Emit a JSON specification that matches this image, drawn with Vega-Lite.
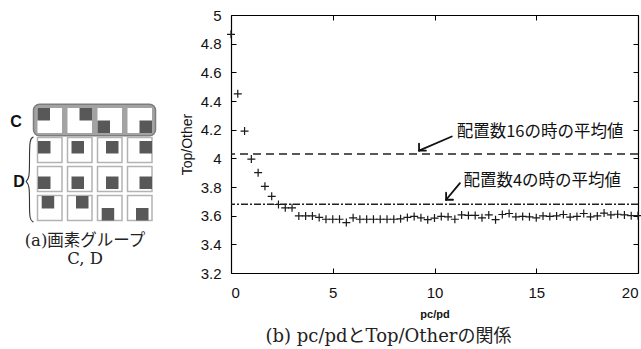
{
  "$schema": "https://vega.github.io/schema/vega-lite/v6.json",
  "padding": {"left": 0, "top": 8, "right": 0, "bottom": 0},
  "background": "white",
  "spacing": 51,
  "bounds": "flush",
  "datasets": {
    "points": [
      {"x": 0, "y": 4.865}, {"x": 0.333, "y": 4.45}, {"x": 0.667, "y": 4.19}, {"x": 1, "y": 3.995},
      {"x": 1.333, "y": 3.9}, {"x": 1.667, "y": 3.805}, {"x": 2, "y": 3.735}, {"x": 2.333, "y": 3.678},
      {"x": 2.667, "y": 3.655}, {"x": 3, "y": 3.655}, {"x": 3.333, "y": 3.598}, {"x": 3.667, "y": 3.598},
      {"x": 4, "y": 3.598}, {"x": 4.333, "y": 3.588}, {"x": 4.667, "y": 3.575}, {"x": 5, "y": 3.575},
      {"x": 5.333, "y": 3.575}, {"x": 5.667, "y": 3.552}, {"x": 6, "y": 3.585}, {"x": 6.333, "y": 3.575},
      {"x": 6.667, "y": 3.575}, {"x": 7, "y": 3.575}, {"x": 7.333, "y": 3.575}, {"x": 7.667, "y": 3.575},
      {"x": 8, "y": 3.575}, {"x": 8.333, "y": 3.578}, {"x": 8.667, "y": 3.588}, {"x": 9, "y": 3.595},
      {"x": 9.333, "y": 3.585}, {"x": 9.667, "y": 3.572}, {"x": 10, "y": 3.583}, {"x": 10.333, "y": 3.595},
      {"x": 10.667, "y": 3.592}, {"x": 11, "y": 3.575}, {"x": 11.333, "y": 3.605}, {"x": 11.667, "y": 3.602},
      {"x": 12, "y": 3.602}, {"x": 12.333, "y": 3.585}, {"x": 12.667, "y": 3.605}, {"x": 13, "y": 3.572},
      {"x": 13.333, "y": 3.608}, {"x": 13.667, "y": 3.615}, {"x": 14, "y": 3.592}, {"x": 14.333, "y": 3.595},
      {"x": 14.667, "y": 3.592}, {"x": 15, "y": 3.585}, {"x": 15.333, "y": 3.598}, {"x": 15.667, "y": 3.595},
      {"x": 16, "y": 3.598}, {"x": 16.333, "y": 3.608}, {"x": 16.667, "y": 3.59}, {"x": 17, "y": 3.595},
      {"x": 17.333, "y": 3.615}, {"x": 17.667, "y": 3.592}, {"x": 18, "y": 3.598}, {"x": 18.333, "y": 3.618},
      {"x": 18.667, "y": 3.605}, {"x": 19, "y": 3.61}, {"x": 19.333, "y": 3.605}, {"x": 19.667, "y": 3.6},
      {"x": 20, "y": 3.6}
    ],
    "means": [{"line": "16", "y": 4.03}, {"line": "4", "y": 3.68}],
    "arrows": [
      {"x": 10.85, "y": 4.152, "x2": 9.24, "y2": 4.054},
      {"x": 9.24, "y": 4.054, "x2": 9.24, "y2": 4.103},
      {"x": 9.24, "y": 4.054, "x2": 9.58, "y2": 4.054},
      {"x": 11.25, "y": 3.827, "x2": 10.57, "y2": 3.711},
      {"x": 10.57, "y": 3.711, "x2": 10.57, "y2": 3.76},
      {"x": 10.57, "y": 3.711, "x2": 10.91, "y2": 3.711}
    ],
    "notes": [
      {"x": 11.09, "y": 4.187, "text": "配置数16の時の平均値"},
      {"x": 11.42, "y": 3.843, "text": "配置数4の時の平均値"}
    ],
    "diagram": [
      {"part": "group", "x": 33.5, "x2": 155.5, "y": 89.3, "y2": 120.7},
      {"part": "ccell", "x": 37.5, "x2": 62, "y": 93, "y2": 118},
      {"part": "ccell", "x": 67.5, "x2": 92, "y": 93, "y2": 118},
      {"part": "ccell", "x": 97.5, "x2": 122, "y": 93, "y2": 118},
      {"part": "ccell", "x": 127.5, "x2": 152, "y": 93, "y2": 118},
      {"part": "dcell", "x": 37.5, "x2": 62, "y": 122.5, "y2": 147.5},
      {"part": "dcell", "x": 67.5, "x2": 92, "y": 122.5, "y2": 147.5},
      {"part": "dcell", "x": 97.5, "x2": 122, "y": 122.5, "y2": 147.5},
      {"part": "dcell", "x": 127.5, "x2": 152, "y": 122.5, "y2": 147.5},
      {"part": "dcell", "x": 37.5, "x2": 62, "y": 151.5, "y2": 176.5},
      {"part": "dcell", "x": 67.5, "x2": 92, "y": 151.5, "y2": 176.5},
      {"part": "dcell", "x": 97.5, "x2": 122, "y": 151.5, "y2": 176.5},
      {"part": "dcell", "x": 127.5, "x2": 152, "y": 151.5, "y2": 176.5},
      {"part": "dcell", "x": 37.5, "x2": 62, "y": 180.5, "y2": 205.5},
      {"part": "dcell", "x": 67.5, "x2": 92, "y": 180.5, "y2": 205.5},
      {"part": "dcell", "x": 97.5, "x2": 122, "y": 180.5, "y2": 205.5},
      {"part": "dcell", "x": 127.5, "x2": 152, "y": 180.5, "y2": 205.5},
      {"part": "pixel", "x": 37.5, "x2": 50, "y": 93, "y2": 105.5},
      {"part": "pixel", "x": 79.5, "x2": 92, "y": 93, "y2": 105.5},
      {"part": "pixel", "x": 97.5, "x2": 110, "y": 105.5, "y2": 118},
      {"part": "pixel", "x": 139.5, "x2": 152, "y": 105.5, "y2": 118},
      {"part": "pixel", "x": 38, "x2": 50.5, "y": 126, "y2": 138.5},
      {"part": "pixel", "x": 71.5, "x2": 84, "y": 126, "y2": 138.5},
      {"part": "pixel", "x": 106, "x2": 118.5, "y": 126, "y2": 138.5},
      {"part": "pixel", "x": 139.5, "x2": 152, "y": 126, "y2": 138.5},
      {"part": "pixel", "x": 38, "x2": 50.5, "y": 161.5, "y2": 174},
      {"part": "pixel", "x": 71.5, "x2": 84, "y": 161.5, "y2": 174},
      {"part": "pixel", "x": 106, "x2": 118.5, "y": 161.5, "y2": 174},
      {"part": "pixel", "x": 139.5, "x2": 152, "y": 161.5, "y2": 174},
      {"part": "pixel", "x": 41.7, "x2": 54.2, "y": 181, "y2": 193.5},
      {"part": "pixel", "x": 76, "x2": 88.5, "y": 181, "y2": 193.5},
      {"part": "pixel", "x": 101.7, "x2": 114.2, "y": 193, "y2": 205.5},
      {"part": "pixel", "x": 136, "x2": 148.5, "y": 193, "y2": 205.5}
    ],
    "brace": [
      {"i": 0, "x": 33.5, "y": 122},
      {"i": 1, "x": 29.5, "y": 124},
      {"i": 2, "x": 29.5, "y": 145},
      {"i": 3, "x": 29.5, "y": 163},
      {"i": 4, "x": 26, "y": 166.5},
      {"i": 5, "x": 26, "y": 166.5},
      {"i": 6, "x": 29.5, "y": 170},
      {"i": 7, "x": 29.5, "y": 188},
      {"i": 8, "x": 29.5, "y": 205},
      {"i": 9, "x": 33.5, "y": 207}
    ],
    "labels": [
      {"kind": "group", "x": 16, "y": 106.7, "text": "C"},
      {"kind": "group", "x": 19, "y": 166.7, "text": "D"},
      {"kind": "caption", "x": 85, "y": 217.5, "text": "(a)画素グループ\nC, D"}
    ]
  },
  "hconcat": [
    {
      "width": 180,
      "height": 258,
      "layer": [
        {
          "data": {"name": "diagram"},
          "transform": [{"filter": "datum.part === 'group'"}],
          "mark": {"type": "rect", "fill": "#a3a3a3", "stroke": "#7d7d7d", "strokeWidth": 1.5, "cornerRadius": 6},
          "encoding": {
            "x": {"field": "x", "type": "quantitative", "scale": {"domain": [0, 180], "nice": false, "zero": false}, "axis": null},
            "x2": {"field": "x2"},
            "y": {"field": "y", "type": "quantitative", "scale": {"domain": [0, 258], "reverse": true, "nice": false, "zero": false}, "axis": null},
            "y2": {"field": "y2"}
          }
        },
        {
          "data": {"name": "diagram"},
          "transform": [{"filter": "datum.part === 'ccell'"}],
          "mark": {"type": "rect", "fill": "#ffffff"},
          "encoding": {
            "x": {"field": "x", "type": "quantitative", "axis": null},
            "x2": {"field": "x2"},
            "y": {"field": "y", "type": "quantitative", "axis": null},
            "y2": {"field": "y2"}
          }
        },
        {
          "data": {"name": "diagram"},
          "transform": [{"filter": "datum.part === 'dcell'"}],
          "mark": {"type": "rect", "fill": "#ffffff", "stroke": "#b3b3b3", "strokeWidth": 1.5},
          "encoding": {
            "x": {"field": "x", "type": "quantitative", "axis": null},
            "x2": {"field": "x2"},
            "y": {"field": "y", "type": "quantitative", "axis": null},
            "y2": {"field": "y2"}
          }
        },
        {
          "data": {"name": "diagram"},
          "transform": [{"filter": "datum.part === 'pixel'"}],
          "mark": {"type": "rect", "fill": "#585858"},
          "encoding": {
            "x": {"field": "x", "type": "quantitative", "axis": null},
            "x2": {"field": "x2"},
            "y": {"field": "y", "type": "quantitative", "axis": null},
            "y2": {"field": "y2"}
          }
        },
        {
          "data": {"name": "brace"},
          "mark": {"type": "line", "interpolate": "basis", "stroke": "#333333", "strokeWidth": 1.1},
          "encoding": {
            "x": {"field": "x", "type": "quantitative", "axis": null},
            "y": {"field": "y", "type": "quantitative", "axis": null},
            "order": {"field": "i", "type": "quantitative"}
          }
        },
        {
          "data": {"name": "labels"},
          "transform": [{"filter": "datum.kind === 'group'"}],
          "mark": {"type": "text", "font": "Liberation Sans", "fontSize": 16, "fontWeight": "bold", "align": "center", "baseline": "middle", "color": "#111111"},
          "encoding": {
            "x": {"field": "x", "type": "quantitative", "axis": null},
            "y": {"field": "y", "type": "quantitative", "axis": null},
            "text": {"field": "text"}
          }
        },
        {
          "data": {"name": "labels"},
          "transform": [{"filter": "datum.kind === 'caption'"}],
          "mark": {"type": "text", "font": "DejaVu Serif, Noto Sans CJK JP", "fontSize": 16.5, "lineBreak": "\n", "lineHeight": 18.5, "align": "center", "baseline": "top", "color": "#222222"},
          "encoding": {
            "x": {"field": "x", "type": "quantitative", "axis": null},
            "y": {"field": "y", "type": "quantitative", "axis": null},
            "text": {"field": "text"}
          }
        }
      ]
    },
    {
      "width": 407,
      "height": 258,
      "title": {
        "text": "(b) pc/pdとTop/Otherの関係",
        "orient": "bottom",
        "anchor": "middle",
        "dx": -46,
        "offset": 9,
        "font": "DejaVu Serif, Noto Sans CJK JP",
        "fontSize": 18,
        "fontWeight": "normal",
        "color": "#222222"
      },
      "layer": [
        {
          "data": {"name": "points"},
          "mark": {"type": "point", "opacity": 0},
          "encoding": {
            "x": {"field": "x", "type": "quantitative", "scale": {"domain": [0, 20], "nice": false, "zero": false},
                  "axis": {"orient": "top", "values": [0, 5, 10, 15, 20], "labels": false, "title": null, "tickSize": -5, "domainColor": "#000000", "tickColor": "#000000", "domainWidth": 1.2}},
            "y": {"field": "y", "type": "quantitative", "scale": {"domain": [3.2, 5], "nice": false, "zero": false},
                  "axis": {"orient": "right", "values": [3.2, 3.4, 3.6, 3.8, 4, 4.2, 4.4, 4.6, 4.8, 5], "labels": false, "title": null, "tickSize": -5, "domainColor": "#000000", "tickColor": "#000000", "domainWidth": 1.2}}
          }
        },
        {
          "data": {"name": "means"},
          "transform": [{"filter": "datum.line === '16'"}],
          "mark": {"type": "rule", "stroke": "#222222", "strokeWidth": 1.5, "strokeDash": [8, 5]},
          "encoding": {"y": {"field": "y", "type": "quantitative", "axis": null}}
        },
        {
          "data": {"name": "means"},
          "transform": [{"filter": "datum.line === '4'"}],
          "mark": {"type": "rule", "stroke": "#222222", "strokeWidth": 1.5, "strokeDash": [7, 2, 2, 2]},
          "encoding": {"y": {"field": "y", "type": "quantitative", "axis": null}}
        },
        {
          "data": {"name": "arrows"},
          "mark": {"type": "rule", "stroke": "#111111", "strokeWidth": 1.8, "strokeCap": "round"},
          "encoding": {
            "x": {"field": "x", "type": "quantitative", "axis": null},
            "y": {"field": "y", "type": "quantitative", "axis": null},
            "x2": {"field": "x2"},
            "y2": {"field": "y2"}
          }
        },
        {
          "data": {"name": "notes"},
          "mark": {"type": "text", "font": "Noto Sans CJK JP", "fontSize": 16.5, "align": "left", "baseline": "middle", "color": "#111111"},
          "encoding": {
            "x": {"field": "x", "type": "quantitative", "axis": null},
            "y": {"field": "y", "type": "quantitative", "axis": null},
            "text": {"field": "text"}
          }
        },
        {
          "data": {"name": "points"},
          "mark": {"type": "point", "shape": "M-1,0L1,0M0,-1L0,1", "filled": false, "stroke": "#1a1a1a", "strokeWidth": 1.2, "size": 64, "opacity": 1},
          "encoding": {
            "x": {"field": "x", "type": "quantitative",
                  "axis": {"orient": "bottom", "values": [0, 5, 10, 15, 20], "tickSize": -5, "labelFlush": true, "labelFont": "Liberation Sans", "labelFontSize": 15, "labelPadding": 17, "title": "pc/pd", "titleFont": "Liberation Sans", "titleFontSize": 11, "titleFontWeight": "bold", "titlePadding": 8, "domainColor": "#000000", "tickColor": "#000000", "labelColor": "#111111", "titleColor": "#111111", "domainWidth": 1.2}},
            "y": {"field": "y", "type": "quantitative",
                  "axis": {"orient": "left", "values": [3.2, 3.4, 3.6, 3.8, 4, 4.2, 4.4, 4.6, 4.8, 5], "format": "~g", "tickSize": -5, "labelFont": "Liberation Sans", "labelFontSize": 15, "labelPadding": 15, "title": "Top/Other", "titleFont": "Liberation Sans", "titleFontSize": 14, "titleFontWeight": "normal", "titlePadding": 6, "domainColor": "#000000", "tickColor": "#000000", "labelColor": "#111111", "titleColor": "#111111", "domainWidth": 1.2}}
          }
        }
      ],
      "resolve": {"axis": {"x": "independent", "y": "independent"}}
    }
  ],
  "config": {
    "view": {"stroke": null},
    "axis": {"grid": false}
  }
}
